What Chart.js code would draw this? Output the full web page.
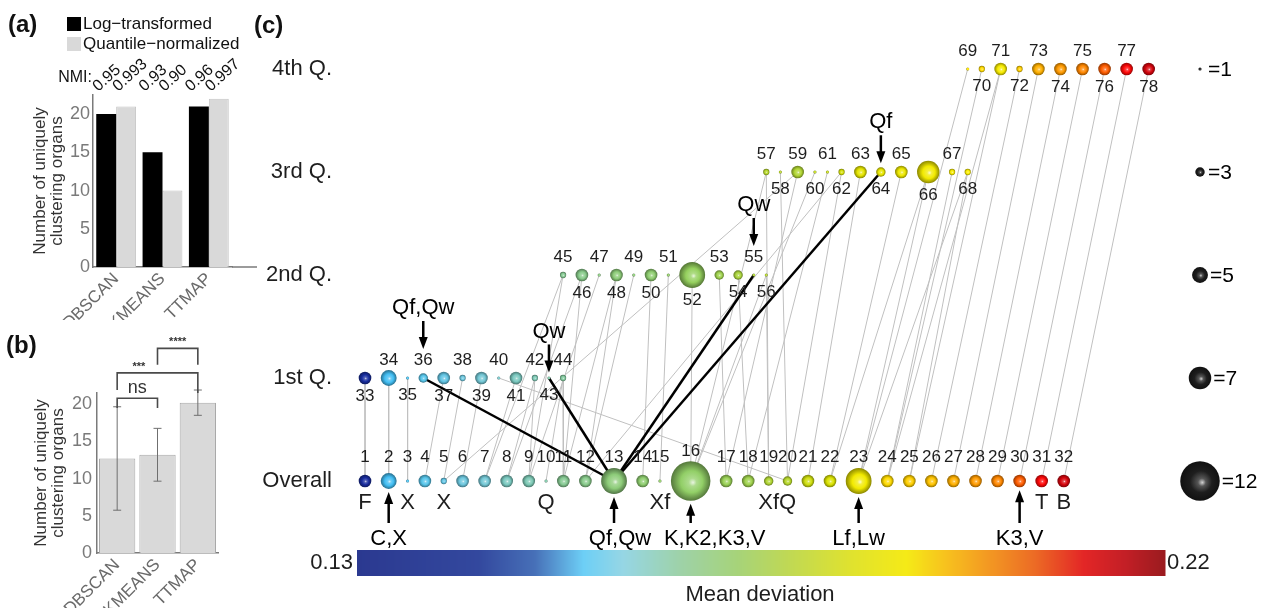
<!DOCTYPE html>
<html>
<head>
<meta charset="utf-8">
<script src="https://cdn.jsdelivr.net/npm/chart.js@4.4.1/dist/chart.umd.min.js"></script>
<style>
  body { margin: 0; background: #fff; }
  #wrap { position: relative; width: 1272px; height: 608px; overflow: hidden; }
  canvas { position: absolute; }
</style>
</head>
<body>
<div id="wrap">
  <canvas id="chartA" width="260" height="320" style="left:0;top:0"></canvas>
  <canvas id="chartB" width="250" height="298" style="left:0;top:310px"></canvas>
  <canvas id="chartC" width="1022" height="608" style="left:250px;top:0"></canvas>
</div>
<script>
// ---------- data ----------
let methods = ['DBSCAN', 'KMEANS', 'TTMAP'];
let logTransformed = [20, 15, 21];
let quantileNormalized = [21, 10, 22];
let nmiLog = ['0.95', '0.93', '0.96'];
let nmiQuantile = ['0.993', '0.90', '0.997'];

let meanOrgans = [12.7, 13.2, 20.2];
let sdOrgans = [6.95, 3.55, 1.7];
let significance = [[0, 1, 'ns'], [0, 2, '***'], [1, 2, '****']];

let rowNames = ['Overall', '1st Q.', '2nd Q.', '3rd Q.', '4th Q.'];
let rowSizes = [32, 12, 12, 12, 10];
// organs per node, nodes 1..78
let nodeCounts = [
  4, 5, 1, 4, 2, 4, 4, 4, 4, 1, 4, 4, 8, 4, 1, 12,
  4, 4, 3, 3, 4, 4, 8, 4, 4, 4, 4, 4, 4, 4, 4, 4,
  4, 5, 1, 3, 4, 2, 4, 1, 4, 2, 1, 2,
  2, 4, 1, 4, 1, 4, 1, 8, 3, 3, 1, 1,
  2, 1, 4, 1, 1, 2, 4, 3, 4, 7, 2, 2,
  1, 2, 4, 2, 4, 4, 4, 4, 4, 4
];
// mean deviation per node
let nodeDeviation = [
  0.133, 0.155, 0.156, 0.157, 0.158, 0.159, 0.160, 0.162, 0.163, 0.164, 0.166, 0.167, 0.169, 0.170, 0.171, 0.171,
  0.173, 0.174, 0.177, 0.178, 0.182, 0.184, 0.189, 0.193, 0.194, 0.195, 0.197, 0.199, 0.201, 0.205, 0.211, 0.216,
  0.134, 0.155, 0.156, 0.157, 0.158, 0.159, 0.160, 0.161, 0.162, 0.163, 0.164, 0.165,
  0.166, 0.167, 0.168, 0.169, 0.169, 0.170, 0.171, 0.172, 0.174, 0.176, 0.177, 0.178,
  0.178, 0.179, 0.177, 0.180, 0.181, 0.183, 0.186, 0.187, 0.188, 0.189, 0.190, 0.191,
  0.192, 0.193, 0.190, 0.194, 0.197, 0.199, 0.201, 0.205, 0.211, 0.216
];
let devRange = [0.13, 0.22];
// [quantile node, overall node]
let links = [
  [33, 1], [34, 2], [35, 3], [37, 4], [38, 5], [39, 6], [40, 20], [41, 7], [42, 8], [42, 9], [44, 10], [44, 11],
  [45, 7], [45, 9], [46, 8], [46, 11], [47, 9], [48, 11], [48, 12], [49, 12], [50, 14], [51, 15], [52, 16],
  [53, 17], [54, 18], [56, 16], [56, 19],
  [57, 16], [57, 19], [58, 20], [59, 5], [59, 17], [60, 16], [61, 18], [62, 12], [62, 20], [63, 21], [65, 22],
  [66, 23], [66, 22], [67, 24], [68, 25], [68, 23],
  [69, 23], [70, 24], [71, 25], [71, 24], [72, 26], [73, 27], [74, 28], [75, 29], [76, 30], [77, 31], [78, 32]
];
let boldLinks = [[36, 13], [43, 13], [55, 13], [64, 13]];
let bottomTags = { 1: 'F', 3: 'X', 5: 'X', 10: 'Q', 15: 'Xf', 19: 'Xf', 20: 'Q', 31: 'T', 32: 'B' };
let arrowUp = { 2: 'C,X', 13: 'Qf,Qw', 16: 'K,K2,K3,V', 23: 'Lf,Lw', 30: 'K3,V' };
let arrowDown = { 36: 'Qf,Qw', 43: 'Qw', 55: 'Qw', 64: 'Qf' };
let legendCounts = [1, 3, 5, 7, 12];

// ---------- helpers ----------
const FONT = '"Liberation Sans", Arial, Helvetica, sans-serif';
Chart.defaults.font.family = FONT;

const CMAP = [
  [0.00, [43, 57, 144]], [0.15, [51, 72, 158]], [0.22, [71, 112, 184]], [0.28, [109, 207, 246]],
  [0.33, [150, 214, 228]], [0.40, [158, 210, 168]], [0.47, [166, 211, 122]], [0.53, [190, 216, 86]],
  [0.61, [223, 226, 47]], [0.68, [245, 234, 23]], [0.73, [247, 193, 30]], [0.78, [243, 154, 34]],
  [0.84, [236, 106, 37]], [0.90, [227, 38, 38]], [0.95, [196, 31, 38]], [1.00, [155, 27, 31]]
];
function cmap(t) {
  t = Math.min(1, Math.max(0, t));
  for (let i = 1; i < CMAP.length; i++) {
    if (t <= CMAP[i][0]) {
      const [t0, c0] = CMAP[i - 1], [t1, c1] = CMAP[i];
      const f = (t - t0) / (t1 - t0);
      return c0.map((v, k) => Math.round(v + (c1[k] - v) * f));
    }
  }
  return CMAP[CMAP.length - 1][1];
}
function shade(c, f) {
  return 'rgb(' + c.map(v => Math.round(f > 0 ? v + (255 - v) * f : v * (1 + f))).join(',') + ')';
}
// balls look a bit richer than the colour bar
function richer(c) {
  const m = (c[0] + c[1] + c[2]) / 3;
  return c.map(v => Math.max(0, Math.min(255, (m + (v - m) * 1.45) * 0.9)));
}
function ballFor(c, rgb) {
  const ch = c.chart, x = ch.scales.x.getPixelForValue(c.raw.x), y = ch.scales.y.getPixelForValue(c.raw.y), r = c.raw.r;
  if (!isFinite(x) || !isFinite(y) || !(r > 0)) return shade(rgb, 0);
  const g = ch.ctx.createRadialGradient(x + r * 0.12, y + r * 0.08, 0, x, y, r);
  g.addColorStop(0, shade(rgb, 0.8));
  g.addColorStop(0.2, shade(rgb, 0.25));
  g.addColorStop(0.55, shade(rgb, 0));
  g.addColorStop(1, shade(rgb, -0.42));
  return g;
}
function radius(n) { return 1.55 * n + 0.008 * n * n; }

// nodes are packed along each row; every quantile row starts where the one below ends
const GAP = 9.4;
let nodeRow = [], nodeX = [];
(function () {
  let idx = 0;
  rowSizes.forEach((size, row) => {
    let x = row < 2 ? 365 : nodeX[idx - 1];
    for (let k = 0; k < size; k++, idx++) {
      if (k > 0) x += radius(nodeCounts[idx - 1]) + radius(nodeCounts[idx]) + GAP;
      nodeX[idx] = x;
      nodeRow[idx] = row;
    }
  });
})();

function arrow(ctx, x, yFrom, yTo) {
  const dir = Math.sign(yTo - yFrom);
  ctx.beginPath(); ctx.moveTo(x, yFrom); ctx.lineTo(x, yTo - dir * 8); ctx.stroke();
  ctx.beginPath(); ctx.moveTo(x, yTo); ctx.lineTo(x - 4.5, yTo - dir * 12); ctx.lineTo(x + 4.5, yTo - dir * 12);
  ctx.closePath(); ctx.fill();
}

// ---------- panel (a) ----------
const panelA = {
  id: 'panelA',
  afterDraw(chart) {
    const { ctx, chartArea } = chart;
    ctx.save();
    ctx.strokeStyle = '#7a7a7a'; ctx.lineWidth = 1.5;
    ctx.beginPath(); ctx.moveTo(chartArea.right, chartArea.bottom); ctx.lineTo(chartArea.right + 25, chartArea.bottom); ctx.stroke();
    ctx.fillStyle = '#111'; ctx.textBaseline = 'middle'; ctx.textAlign = 'left';
    ctx.font = 'bold 24px ' + FONT;
    ctx.fillText('(a)', 8, 25);
    chart.data.datasets.forEach((ds, k) => {
      const y = 24 + k * 20;
      ctx.fillStyle = ds.backgroundColor; ctx.fillRect(67, y - 7, 14, 14);
      ctx.fillStyle = '#111'; ctx.font = '17px ' + FONT;
      ctx.fillText(ds.label, 83, y);
    });
    ctx.font = '16px ' + FONT; ctx.textAlign = 'right';
    ctx.fillText('NMI:', 92, 78);
    ctx.textAlign = 'left';
    [nmiLog, nmiQuantile].forEach((arr, k) => {
      chart.getDatasetMeta(k).data.forEach((bar, i) => {
        ctx.save();
        ctx.translate(bar.x - 8, 92);
        ctx.rotate(-42 * Math.PI / 180);
        ctx.font = '16px ' + FONT; ctx.textBaseline = 'alphabetic';
        ctx.fillText(arr[i], 0, 0);
        ctx.restore();
      });
    });
    ctx.restore();
  }
};

new Chart(document.getElementById('chartA'), {
  type: 'bar',
  data: {
    labels: methods,
    datasets: [
      { label: 'Log\u2212transformed', data: logTransformed, backgroundColor: '#000000', borderWidth: 0 },
      { label: 'Quantile\u2212normalized', data: quantileNormalized, backgroundColor: '#d9d9d9', borderColor: '#c4c4c4', borderWidth: 1 }
    ]
  },
  options: {
    responsive: false, animation: false, events: [],
    layout: { padding: { top: 95, right: 28, left: 0, bottom: 0 } },
    datasets: { bar: { categoryPercentage: 0.86, barPercentage: 1 } },
    plugins: { legend: { display: false }, tooltip: { enabled: false } },
    scales: {
      x: {
        grid: { display: false, drawTicks: false }, border: { color: '#7a7a7a', width: 1.5 },
        ticks: { color: '#6a6a6a', font: { size: 17 }, minRotation: 45, maxRotation: 45, autoSkip: false, padding: 2 },
        afterFit: s => { s.height = 53; }
      },
      y: {
        min: 0, max: 22.5,
        grid: { display: false, drawTicks: false }, border: { color: '#7a7a7a', width: 1.5 },
        ticks: { stepSize: 5, includeBounds: false, color: '#7a7a7a', font: { size: 18 }, padding: 3 },
        title: { display: true, text: ['Number of uniquely', 'clustering organs'], color: '#333',
                 font: { size: 17, lineHeight: 1.05 }, padding: { top: 31, bottom: 0 } },
        afterFit: s => { s.width = 93; }
      }
    }
  },
  plugins: [panelA]
});

// ---------- panel (b) ----------
const panelB = {
  id: 'panelB',
  afterDatasetsDraw(chart) {
    const { ctx } = chart, y = chart.scales.y;
    const bars = chart.getDatasetMeta(0).data;
    ctx.save();
    ctx.strokeStyle = '#6f6f6f'; ctx.lineWidth = 1;
    bars.forEach((b, i) => {
      const lo = y.getPixelForValue(meanOrgans[i] - sdOrgans[i]), hi = y.getPixelForValue(meanOrgans[i] + sdOrgans[i]);
      ctx.beginPath();
      ctx.moveTo(b.x, lo); ctx.lineTo(b.x, hi);
      ctx.moveTo(b.x - 4, lo); ctx.lineTo(b.x + 4, lo);
      ctx.moveTo(b.x - 4, hi); ctx.lineTo(b.x + 4, hi);
      ctx.stroke();
    });
    const tops = [20.8, 24.2, 27.5], legs = [[19.5, 19.5], [21.9, 21.5], [25.3, 25.3]], at = [0.5, 0.27, 0.5];
    ctx.strokeStyle = '#4a4a4a'; ctx.lineWidth = 1.6; ctx.fillStyle = '#333';
    ctx.textAlign = 'center'; ctx.textBaseline = 'alphabetic';
    significance.forEach(([a, b, label], k) => {
      const xa = bars[a].x, xb = bars[b].x, yt = y.getPixelForValue(tops[k]);
      ctx.beginPath();
      ctx.moveTo(xa, y.getPixelForValue(legs[k][0])); ctx.lineTo(xa, yt); ctx.lineTo(xb, yt);
      ctx.lineTo(xb, y.getPixelForValue(legs[k][1]));
      ctx.stroke();
      ctx.font = label === 'ns' ? '18px ' + FONT : 'bold 11px ' + FONT;
      ctx.fillText(label, xa + (xb - xa) * at[k], yt - (label === 'ns' ? 5 : 3));
    });
    ctx.fillStyle = '#111'; ctx.textAlign = 'left'; ctx.textBaseline = 'middle';
    ctx.font = 'bold 24px ' + FONT;
    ctx.fillText('(b)', 6, 36);
    ctx.restore();
  }
};

new Chart(document.getElementById('chartB'), {
  type: 'bar',
  data: {
    labels: methods,
    datasets: [{ data: meanOrgans, backgroundColor: '#d9d9d9', borderColor: '#a8a8a8', borderWidth: 1,
                 categoryPercentage: 0.9, barPercentage: 1 }]
  },
  options: {
    responsive: false, animation: false, events: [],
    layout: { padding: { top: 83, right: 32, left: 0, bottom: 0 } },
    plugins: { legend: { display: false }, tooltip: { enabled: false } },
    scales: {
      x: {
        grid: { display: false, drawTicks: false }, border: { color: '#7a7a7a', width: 1.5 },
        ticks: { color: '#6a6a6a', font: { size: 17 }, minRotation: 45, maxRotation: 45, autoSkip: false, padding: 2 },
        afterFit: s => { s.height = 55; }
      },
      y: {
        min: 0, max: 21.5,
        grid: { display: false, drawTicks: false }, border: { color: '#7a7a7a', width: 1.5 },
        ticks: { stepSize: 5, includeBounds: false, color: '#7a7a7a', font: { size: 18 }, padding: 5 },
        title: { display: true, text: ['Number of uniquely', 'clustering organs'], color: '#333',
                 font: { size: 17, lineHeight: 1.05 }, padding: { top: 32, bottom: 0 } },
        afterFit: s => { s.width = 97; }
      }
    }
  },
  plugins: [panelB]
});

// ---------- panel (c) ----------
const arrowUpShift = { 13: 6, 16: 24 };
const panelC = {
  id: 'panelC',
  afterDatasetsDraw(chart) {
    const { ctx, scales } = chart;
    const nodes = chart.getDatasetMeta(0).data;
    const px = v => scales.x.getPixelForValue(v);
    ctx.save();
    ctx.fillStyle = '#1e1e1e'; ctx.strokeStyle = '#000';
    ctx.textAlign = 'center'; ctx.textBaseline = 'middle';

    const labelAbove = i => nodeRow[i] === 0 || (nodeRow[i] === 1 ? (i + 1) % 2 === 0 : (i + 1) % 2 === 1);
    ctx.font = '17px ' + FONT;
    nodes.forEach((el, i) => {
      const r = el.options.radius;
      const y = labelAbove(i) ? el.y - Math.max(nodeRow[i] === 0 ? 24 : 18, r + 10) : el.y + Math.max(17, r + 12);
      ctx.fillText(String(i + 1), el.x, y);
    });

    ctx.font = '22px ' + FONT;
    Object.keys(bottomTags).forEach(id => {
      const el = nodes[id - 1];
      ctx.fillText(bottomTags[id], el.x, el.y + 22);
    });

    ctx.lineWidth = 2.5;
    ctx.fillStyle = '#000';
    Object.keys(arrowUp).forEach(id => {
      const el = nodes[id - 1];
      arrow(ctx, el.x, el.y + 42, el.y + el.options.radius + 3);
      ctx.fillText(arrowUp[id], el.x + (arrowUpShift[id] || 0), el.y + 58);
    });
    Object.keys(arrowDown).forEach(id => {
      const i = id - 1, el = nodes[i];
      const tip = labelAbove(i) ? el.y - 29 : el.y - el.options.radius - 4;
      arrow(ctx, el.x, tip - 28, tip);
      ctx.fillText(arrowDown[id], el.x, tip - 41);
    });

    // size legend labels
    ctx.textAlign = 'left'; ctx.font = '21px ' + FONT;
    chart.getDatasetMeta(1).data.forEach((el, k) => {
      ctx.fillText('=' + legendCounts[k], el.x + Math.max(el.options.radius, 6) + 2, el.y + 1);
    });

    // colour bar
    const x0 = px(357), x1 = px(1164), top = 550, h = 26;
    for (let p = 0; p <= x1 - x0; p++) {
      ctx.fillStyle = 'rgb(' + cmap(p / (x1 - x0)).join(',') + ')';
      ctx.fillRect(x0 + p, top, 1.5, h);
    }
    ctx.fillStyle = '#1e1e1e'; ctx.font = '22px ' + FONT;
    ctx.textAlign = 'right'; ctx.fillText(devRange[0].toFixed(2), x0 - 4, top + 13);
    ctx.textAlign = 'left'; ctx.fillText(devRange[1].toFixed(2), x1 + 3, top + 13);
    ctx.textAlign = 'center'; ctx.fillText('Mean deviation', px(760), 595);

    ctx.textAlign = 'left'; ctx.font = 'bold 24px ' + FONT; ctx.fillStyle = '#111';
    ctx.fillText('(c)', 4, 26);
    ctx.restore();
  }
};

const devColor = i => richer(cmap((nodeDeviation[i] - devRange[0]) / (devRange[1] - devRange[0])));
const lineSet = (pairs, color, width, order) => pairs.map(([q, o]) => ({
  type: 'line', order: order, clip: false,
  data: [{ x: nodeX[q - 1], y: nodeRow[q - 1] }, { x: nodeX[o - 1], y: nodeRow[o - 1] }],
  borderColor: color, borderWidth: width, pointRadius: 0, fill: false, tension: 0
}));

new Chart(document.getElementById('chartC'), {
  type: 'bubble',
  data: {
    datasets: [
      {
        label: 'nodes', order: 1, clip: false, borderWidth: 0,
        data: nodeCounts.map((n, i) => ({ x: nodeX[i], y: nodeRow[i], r: radius(n) })),
        backgroundColor: c => c.type === 'data' ? ballFor(c, devColor(c.dataIndex)) : '#999'
      },
      {
        label: 'size', order: 1, clip: false, borderWidth: 0,
        data: legendCounts.map((n, k) => ({ x: 1200, y: 4 - k, r: radius(n) })),
        backgroundColor: c => c.type === 'data' ? ballFor(c, [30, 30, 30]) : '#000'
      },
      ...lineSet(links, '#c0c0c0', 1, 3),
      ...lineSet(boldLinks, '#000000', 2.5, 2)
    ]
  },
  options: {
    responsive: false, animation: false, events: [],
    layout: { autoPadding: false, padding: { top: 69, bottom: 127, left: 0, right: 0 } },
    plugins: { legend: { display: false }, tooltip: { enabled: false } },
    scales: {
      x: { type: 'linear', min: 335, max: 1272, display: false },
      y: {
        type: 'linear', min: 0, max: 4,
        grid: { display: false, drawTicks: false }, border: { display: false },
        ticks: { stepSize: 1, color: '#1e1e1e', font: { size: 22 }, padding: 3, callback: v => rowNames[v] },
        afterFit: s => { s.width = 85; }
      }
    }
  },
  plugins: [panelC]
});
</script>
</body>
</html>
